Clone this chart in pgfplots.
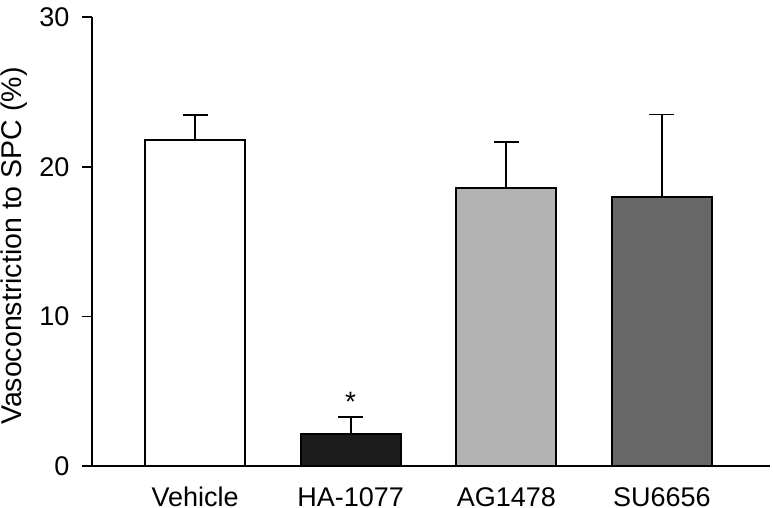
\documentclass[border=0pt]{standalone}
\usepackage{fontspec}
\setmainfont{Liberation Sans}
\usepackage{pgfplots}
\pgfplotsset{compat=1.18}
\definecolor{barblack}{HTML}{1C1C1C}
\definecolor{barlight}{HTML}{B3B3B3}
\definecolor{bardark}{HTML}{676767}
\begin{document}
\begin{tikzpicture}
\begin{axis}[
  scale only axis,
  width=678.3pt, height=448.7pt,
  xmin=-0.664, xmax=3.694,
  ymin=0, ymax=30,
  axis x line=bottom, axis y line=left,
  axis line style={-, line width=1.8pt},
  xtick={0,1,2,3},
  xticklabels={Vehicle,HA-1077,AG1478,SU6656},
  major x tick style={draw=none},
  ytick={0,10,20,30},
  tick align=outside,
  major tick length=10pt,
  every tick/.style={line width=1.8pt, black},
  font=\fontsize{27}{32}\selectfont,
  tick label style={font=\fontsize{27}{32}\selectfont},
  /pgf/number format/assume math mode=true,
  xticklabel style={anchor=base, inner sep=0pt, yshift=-30pt},
  yticklabel style={anchor=east, inner sep=0pt, xshift=-12pt},
  ylabel={Vasoconstriction to SPC (\%)},
  ylabel style={at={(axis description cs:0,0.49)}, anchor=south, inner sep=0pt, yshift=64pt, font=\fontsize{28.5}{33}\selectfont},
  ybar, bar width=100pt, bar shift=0pt,
  every axis plot/.append style={line width=1.8pt, draw=black},
  error bars/y dir=plus, error bars/y explicit,
  error bars/error bar style={line width=1.8pt, black},
  error bars/error mark options={line width=1.8pt, black, mark size=12.5pt, rotate=90},
  clip=false,
]
\addplot[fill=white] coordinates {(0,21.8) +- (0,1.66)};
\addplot[fill=barblack] coordinates {(1,2.14) +- (0,1.12)};
\addplot[fill=barlight] coordinates {(2,18.6) +- (0,3.07)};
\addplot[fill=bardark] coordinates {(3,18.0) +- (0,5.5)};
\node[anchor=base, inner sep=0pt, font=\fontsize{28}{32}\selectfont] at (axis cs:1,3.65) {*};
\end{axis}
\pgfresetboundingbox
\useasboundingbox (-91.7pt,-41pt) rectangle (681.3pt,466pt);
\end{tikzpicture}
\end{document}
